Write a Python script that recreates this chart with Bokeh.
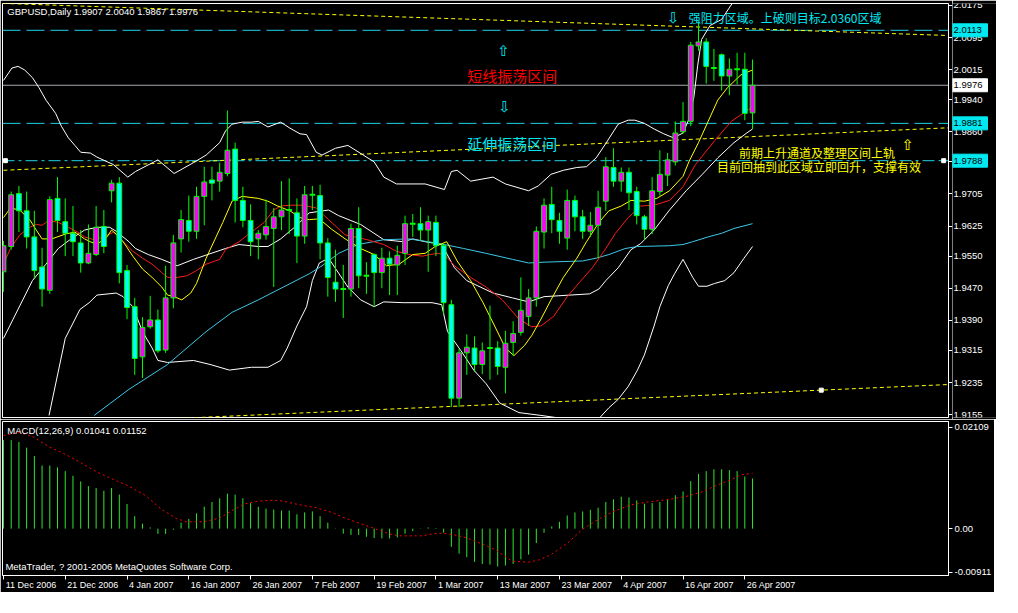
from bokeh.plotting import figure
from bokeh.layouts import column, row
from bokeh.models import Range1d, FixedTicker, Span, LinearAxis
from bokeh.core.properties import value
from bokeh.embed import file_html
from bokeh.resources import INLINE

# ---------------- data ----------------
SYMBOL_HEADER = "GBPUSD,Daily  1.9907 2.0040 1.9867 1.9976"
MACD_HEADER = "MACD(12,26,9) 0.01041 0.01152"
COPYRIGHT = "MetaTrader, ? 2001-2006 MetaQuotes Software Corp."

X_TICK_LABELS = ["11 Dec 2006", "21 Dec 2006", "4 Jan 2007", "16 Jan 2007", "26 Jan 2007",
                 "7 Feb 2007", "19 Feb 2007", "1 Mar 2007", "13 Mar 2007", "23 Mar 2007",
                 "4 Apr 2007", "16 Apr 2007", "26 Apr 2007"]
X_TICK_BARS = [0, 8, 16, 24, 32, 40, 48, 56, 64, 72, 80, 88, 96]

PRICE_TICK_LABELS = ["2.0175", "2.0095", "2.0015", "1.9940", "1.9860", "1.9785", "1.9705", "1.9625",
                     "1.9550", "1.9470", "1.9390", "1.9315", "1.9235", "1.9155"]
MACD_TICKS = [0.02109, 0.0, -0.00911]
MACD_TICK_LABELS = ["0.02109", "0.00", "-0.00911"]

OPEN = [1.9511,1.9574,1.9706,1.9663,1.9598,1.9523,1.9465,1.9694,1.9636,1.9607,
        1.9583,1.9533,1.9554,1.9624,1.9713,1.9732,1.9514,1.9424,1.9299,1.9374,
        1.9391,1.9316,1.9446,1.9593,1.9639,1.9612,1.9699,1.9740,1.9737,1.9756,
        1.9817,1.9689,1.9639,1.9593,1.9603,1.9619,1.9648,1.9665,1.9658,1.9600,
        1.9703,1.9701,1.9583,1.9485,1.9468,1.9468,1.9619,1.9501,1.9554,1.9509,
        1.9545,1.9528,1.9557,1.9631,1.9631,1.9615,1.9634,1.9576,1.9429,1.9196,
        1.9309,1.9321,1.9280,1.9321,1.9321,1.9273,1.9335,1.9360,1.9400,1.9446,
        1.9610,1.9679,1.9639,1.9595,1.9689,1.9648,1.9612,1.9627,1.9687,1.9771,
        1.9737,1.9759,1.9711,1.9648,1.9617,1.9711,1.9752,1.9785,1.9860,1.9886,
        2.0074,2.0084,2.0019,2.0052,1.9999,2.0016,2.0016,1.9907]
HIGH = [1.9588,1.9711,1.9725,1.9711,1.9663,1.9571,1.9699,1.9747,1.9694,1.9675,
        1.9615,1.9629,1.9675,1.9665,1.9740,1.9747,1.9528,1.9446,1.9398,1.9451,
        1.9417,1.9526,1.9603,1.9665,1.9701,1.9723,1.9773,1.9773,1.9783,1.9913,
        1.9833,1.9723,1.9679,1.9615,1.9691,1.9670,1.9737,1.9744,1.9694,1.9725,
        1.9725,1.9728,1.9595,1.9566,1.9528,1.9631,1.9672,1.9535,1.9557,1.9571,
        1.9562,1.9576,1.9651,1.9655,1.9672,1.9651,1.9651,1.9583,1.9441,1.9319,
        1.9355,1.9350,1.9335,1.9427,1.9338,1.9364,1.9388,1.9497,1.9468,1.9624,
        1.9694,1.9723,1.9658,1.9716,1.9701,1.9665,1.9660,1.9713,1.9797,1.9819,
        1.9771,1.9771,1.9723,1.9653,1.9747,1.9814,1.9807,1.9886,1.9934,2.0084,
        2.0132,2.0093,2.0067,2.0055,2.0043,2.0057,2.0057,2.0040]
LOW = [1.9461,1.9566,1.9610,1.9569,1.9494,1.9424,1.9456,1.9610,1.9550,1.9550,
       1.9509,1.9530,1.9550,1.9557,1.9684,1.9482,1.9393,1.9254,1.9246,1.9369,
       1.9309,1.9309,1.9420,1.9559,1.9586,1.9593,1.9627,1.9689,1.9711,1.9749,
       1.9634,1.9622,1.9550,1.9542,1.9591,1.9473,1.9615,1.9605,1.9533,1.9581,
       1.9665,1.9542,1.9449,1.9436,1.9396,1.9449,1.9470,1.9456,1.9424,1.9470,
       1.9453,1.9453,1.9528,1.9598,1.9588,1.9511,1.9550,1.9405,1.9174,1.9174,
       1.9254,1.9261,1.9256,1.9242,1.9254,1.9208,1.9302,1.9352,1.9376,1.9424,
       1.9569,1.9607,1.9581,1.9566,1.9612,1.9593,1.9598,1.9545,1.9663,1.9723,
       1.9711,1.9665,1.9629,1.9591,1.9605,1.9701,1.9725,1.9776,1.9855,1.9874,
       2.0062,1.9980,1.9987,1.9963,1.9951,1.9978,1.9889,1.9867]
CLOSE = [1.9576,1.9703,1.9663,1.9598,1.9514,1.9468,1.9691,1.9639,1.9607,1.9586,
         1.9533,1.9557,1.9622,1.9574,1.9732,1.9509,1.9422,1.9295,1.9372,1.9391,
         1.9314,1.9446,1.9583,1.9641,1.9612,1.9699,1.9735,1.9732,1.9759,1.9814,
         1.9689,1.9639,1.9586,1.9607,1.9624,1.9648,1.9665,1.9665,1.9600,1.9703,
         1.9703,1.9583,1.9497,1.9468,1.9468,1.9619,1.9501,1.9501,1.9509,1.9545,
         1.9530,1.9552,1.9631,1.9631,1.9615,1.9636,1.9576,1.9434,1.9196,1.9309,
         1.9323,1.9280,1.9314,1.9321,1.9275,1.9333,1.9357,1.9415,1.9446,1.9612,
         1.9677,1.9641,1.9612,1.9689,1.9648,1.9612,1.9627,1.9672,1.9773,1.9737,
         1.9759,1.9708,1.9651,1.9617,1.9713,1.9754,1.9790,1.9857,1.9886,2.0076,
         2.0084,2.0023,2.0019,1.9999,2.0016,2.0016,1.9906,1.9976]

# indicator lines: (bar index, price)
MA_FAST = [(0.0,1.9646),(0.9,1.9670),(2.1,1.9665),(3.4,1.9641),(4.25,1.9615),(5.0,1.9593),(6.25,1.9593),
           (8.0,1.9605),(9.25,1.9610),(10.5,1.9593),(11.25,1.9586),(12.1,1.9579),(13.4,1.9598),(14.0,1.9615),
           (14.6,1.9605),(15.5,1.9586),(16.75,1.9550),(18.0,1.9518),(19.25,1.9497),(20.5,1.9473),(21.25,1.9453),
           (22.1,1.9449),(23.1,1.9441),(24.25,1.9458),(25.0,1.9482),(26.25,1.9545),(28.4,1.9634),(29.6,1.9687),
           (30.9,1.9699),(33.0,1.9694),(34.25,1.9687),(35.5,1.9675),(37.1,1.9663),(38.4,1.9646),(39.6,1.9641),
           (40.9,1.9643),(42.5,1.9617),(44.25,1.9593),(46.25,1.9569),(48.0,1.9554),(49.6,1.9526),(51.25,1.9530),
           (53.0,1.9554),(54.6,1.9557),(55.9,1.9574),(57.4,1.9586),(58.75,1.9538),(60.5,1.9489),(62.1,1.9434),
           (63.6,1.9376),(65.0,1.9321),(66.1,1.9302),(67.5,1.9328),(68.4,1.9352),(69.6,1.9393),(70.9,1.9441),
           (72.5,1.9497),(74.25,1.9545),(75.5,1.9586),(77.1,1.9634),(78.4,1.9663),(80.0,1.9675),(81.25,1.9689),
           (83.0,1.9687),(84.6,1.9694),(86.25,1.9713),(88.0,1.9749),(88.75,1.9785),(90.0,1.9833),(91.25,1.9886),
           (92.5,1.9939),(93.75,1.9970),(95.5,2.0002),(97.0,2.0014)]
MA_MID = [(0.0,1.9530),(0.9,1.9569),(2.1,1.9603),(3.4,1.9622),(4.25,1.9629),(5.0,1.9627),(5.9,1.9639),
          (7.1,1.9634),(8.4,1.9622),(9.6,1.9610),(10.5,1.9598),(11.75,1.9591),(13.0,1.9598),(14.25,1.9610),
          (15.5,1.9586),(16.75,1.9562),(18.0,1.9545),(19.25,1.9530),(20.5,1.9509),(21.25,1.9497),(22.5,1.9497),
          (23.75,1.9501),(25.0,1.9514),(26.25,1.9530),(28.0,1.9542),(28.75,1.9566),(30.5,1.9586),(32.1,1.9610),
          (33.75,1.9634),(35.0,1.9665),(35.9,1.9675),(37.1,1.9677),(38.75,1.9677),(40.5,1.9670),(42.1,1.9641),
          (44.25,1.9603),(45.5,1.9598),(47.1,1.9591),(49.25,1.9579),(50.9,1.9562),(52.5,1.9554),(54.25,1.9550),
          (55.25,1.9554),(56.25,1.9557),(57.1,1.9554),(58.4,1.9526),(60.5,1.9497),(62.5,1.9473),(64.6,1.9441),
          (66.75,1.9393),(68.4,1.9374),(69.6,1.9376),(71.25,1.9400),(73.0,1.9449),(74.6,1.9485),(76.25,1.9521),
          (78.0,1.9569),(79.25,1.9607),(80.9,1.9646),(82.5,1.9675),(84.25,1.9677),(86.25,1.9689),(88.0,1.9723),
          (89.6,1.9778),(92.1,1.9838),(94.25,1.9886),(97.0,1.9922)]
MA_SLOW = [(11.75,1.9153),(16.25,1.9218),(21.25,1.9280),(26.25,1.9362),(29.6,1.9410),(33.0,1.9441),
           (36.25,1.9473),(39.6,1.9506),(41.25,1.9526),(43.4,1.9557),(45.9,1.9579),(49.25,1.9591),(52.5,1.9593),
           (55.0,1.9586),(57.1,1.9579),(59.6,1.9569),(62.5,1.9557),(65.9,1.9542),(68.0,1.9533),(70.0,1.9535),
           (75.0,1.9538),(76.75,1.9545),(78.4,1.9554),(80.5,1.9569),(82.1,1.9574),(86.25,1.9576),(88.0,1.9579),
           (89.25,1.9586),(91.25,1.9598),(93.0,1.9607),(94.6,1.9619),(97.0,1.9631)]
BB_MID = [(0.0,1.9345),(1.25,1.9393),(2.5,1.9441),(3.75,1.9489),(5.5,1.9530),(7.1,1.9569),(8.75,1.9593),
          (10.5,1.9615),(12.1,1.9622),(13.75,1.9622),(14.6,1.9612),(16.25,1.9586),(17.1,1.9569),(18.75,1.9554),
          (20.5,1.9542),(22.5,1.9526),(24.6,1.9542),(28.75,1.9569),(30.5,1.9579),(33.0,1.9574),(34.25,1.9574),
          (35.9,1.9593),(38.0,1.9627),(39.6,1.9658),(42.1,1.9665),(43.4,1.9651),(46.25,1.9629),(49.25,1.9591),
          (51.75,1.9586),(53.0,1.9593),(54.6,1.9586),(56.75,1.9579),(58.4,1.9521),(60.0,1.9489),(63.4,1.9458),
          (65.9,1.9446),(68.0,1.9436),(70.0,1.9449),(73.4,1.9453),(75.9,1.9456),(77.1,1.9468),(78.0,1.9489),
          (79.6,1.9521),(81.25,1.9566),(82.5,1.9581),(84.25,1.9615),(86.25,1.9665),(88.4,1.9713),(90.5,1.9754),
          (92.5,1.9795),(94.6,1.9833),(96.25,1.9857),(97.0,1.9867)]
BB_UP = [(0.0,1.9988),(1.1,2.0019),(1.9,2.0023),(2.75,2.0014),(3.75,1.9995),(4.6,1.9970),(5.5,1.9939),
         (6.75,1.9906),(7.5,1.9874),(8.4,1.9845),(9.25,1.9826),(10.0,1.9809),(11.25,1.9807),(12.1,1.9797),
         (14.25,1.9778),(16.1,1.9747),(17.1,1.9761),(20.0,1.9790),(22.1,1.9756),(24.6,1.9783),(26.25,1.9802),
         (28.0,1.9833),(28.75,1.9862),(29.6,1.9879),(30.9,1.9884),(32.1,1.9884),(33.0,1.9886),(34.25,1.9872),
         (35.9,1.9884),(37.1,1.9869),(38.4,1.9855),(39.25,1.9853),(40.5,1.9809),(41.25,1.9802),(43.0,1.9819),
         (44.6,1.9826),(48.0,1.9785),(49.25,1.9747),(50.9,1.9730),(54.6,1.9730),(57.1,1.9716),(58.0,1.9761),
         (58.75,1.9764),(60.5,1.9737),(63.4,1.9747),(65.0,1.9730),(68.0,1.9713),(69.25,1.9725),(70.9,1.9754),
         (72.5,1.9764),(74.25,1.9771),(75.5,1.9773),(76.75,1.9795),(78.0,1.9831),(79.6,1.9879),(80.9,1.9889),
         (81.75,1.9889),(83.0,1.9881),(84.25,1.9867),(85.5,1.9855),(86.75,1.9845),(88.0,1.9857),(88.75,1.9891),
         (89.4,1.9946),(89.9,2.0026),(90.4,2.0090),(91.5,2.0125),(93.0,2.0140),(94.6,2.0187),(97.0,2.0290)]
BB_LOW = [(5.9,1.9153),(8.0,1.9345),(9.9,1.9417),(11.1,1.9434),(12.1,1.9453),(14.6,1.9458),(15.5,1.9449),
          (16.75,1.9424),(18.0,1.9362),(19.25,1.9321),(20.0,1.9290),(21.25,1.9285),(24.6,1.9290),(26.75,1.9280),
          (29.25,1.9266),(32.1,1.9273),(34.25,1.9273),(35.9,1.9290),(36.75,1.9321),(38.0,1.9376),(39.25,1.9424),
          (40.0,1.9489),(40.9,1.9533),(42.1,1.9545),(44.6,1.9473),(46.25,1.9441),(48.0,1.9424),(49.25,1.9436),
          (51.75,1.9434),(55.5,1.9434),(56.75,1.9429),(57.5,1.9362),(59.25,1.9314),(60.9,1.9266),(62.5,1.9232),
          (64.25,1.9184),(66.75,1.9160),(69.6,1.9153),(72.5,1.9145),(77.1,1.9145),(78.4,1.9172),(79.6,1.9193),
          (80.9,1.9225),(82.1,1.9266),(83.0,1.9304),(84.25,1.9376),(85.0,1.9424),(86.1,1.9477),(86.9,1.9506),
          (88.0,1.9542),(89.25,1.9497),(90.0,1.9475),(91.1,1.9475),(92.1,1.9482),(93.4,1.9489),(94.6,1.9509),
          (95.9,1.9545),(97.0,1.9574)]

MACD_HIST = [0.01839,0.01839,0.01800,0.01683,0.01507,0.01312,0.01312,0.01273,0.01195,0.01098,
             0.00981,0.00883,0.00844,0.00786,0.00844,0.00708,0.00513,0.00259,0.00103,0.00025,
             -0.00111,-0.00111,-0.00023,0.00123,0.00201,0.00318,0.00454,0.00552,0.00630,0.00727,
             0.00708,0.00630,0.00532,0.00454,0.00415,0.00396,0.00376,0.00376,0.00298,0.00337,
             0.00357,0.00259,0.00123,0.00006,-0.00105,-0.00131,-0.00131,-0.00170,-0.00195,-0.00203,
             -0.00203,-0.00183,-0.00105,-0.00053,-0.00005,0.00025,0.00012,-0.00086,-0.00378,-0.00521,
             -0.00593,-0.00690,-0.00735,-0.00749,-0.00788,-0.00768,-0.00735,-0.00638,-0.00540,-0.00300,
             -0.00086,0.00045,0.00142,0.00273,0.00337,0.00357,0.00390,0.00435,0.00552,0.00610,
             0.00663,0.00649,0.00585,0.00519,0.00532,0.00552,0.00610,0.00694,0.00772,0.00987,
             0.01137,0.01195,0.01234,0.01234,0.01215,0.01195,0.01084,0.01041]
MACD_SIGNAL = [(0.0,0.01936),(2.1,0.01995),(3.75,0.01917),(5.9,0.01702),(8.0,0.01546),(10.0,0.01371),
               (12.1,0.01176),(14.25,0.01020),(16.25,0.00883),(18.4,0.00688),(20.5,0.00396),(22.5,0.00201),
               (23.75,0.00142),(25.9,0.00142),(28.0,0.00220),(29.6,0.00376),(31.25,0.00513),(33.0,0.00571),
               (35.0,0.00591),(36.25,0.00571),(38.4,0.00493),(40.5,0.00435),(42.5,0.00337),(44.25,0.00220),
               (45.9,0.00123),(48.0,0.00006),(50.0,-0.00111),(51.25,-0.00150),(54.25,-0.00150),(55.5,-0.00111),
               (56.75,-0.00092),(58.4,-0.00131),(60.0,-0.00189),(61.75,-0.00306),(63.75,-0.00443),(65.9,-0.00677),
               (68.0,-0.00696),(69.25,-0.00657),(70.9,-0.00540),(73.0,-0.00306),(75.0,-0.00014),(77.1,0.00201),
               (79.25,0.00376),(81.25,0.00493),(83.4,0.00552),(86.25,0.00610),(88.4,0.00669),(90.5,0.00766),
               (92.1,0.00883),(94.25,0.01020),(95.5,0.01117),(97.0,0.01152)]

# drawn objects
TREND_UPPER = [(0.0, 2.0180), (122.4, 2.0100)]
TREND_CHANNEL = [(0.0, 1.9764), (122.4, 1.9870)]
TREND_LOWER = [(18.4, 1.9142), (122.4, 1.9230)]
LEVEL_RESIST = 2.0113
LEVEL_BID = 1.9976
LEVEL_SUPPORT = 1.9881
LEVEL_SUPPORT2 = 1.9788
ANCHORS = [(0.25, 1.9788), (121.75, 1.9788), (105.9, 1.9216)]

# ---------------- style ----------------
GREEN = "#00ff00"
BULL = "#ff00ff"
BEAR = "#00ffff"
AQUA = "#00e8f0"
LINE_CYAN = "#1ed0e6"
MA_CYAN = "#3cc8e8"
YELLOW = "#ffff00"
FONT = "Liberation Sans"
CJK = "Noto Sans CJK SC"

X0, X1 = -0.125, 122.375
Y0, Y1 = 1.91478, 2.01798
FW = 946
FH = 414
LAB_W = 44
PX_PER_BAR = FW / (X1 - X0)
PRICE_PER_PX = (Y1 - Y0) / FH
PRICE_TICKS = [float(s) for s in PRICE_TICK_LABELS]

def unzip(pairs):
    return [a for a, _ in pairs], [b for _, b in pairs]

def style_axis(ax, size="9.5px"):
    ax.axis_line_color = "white"
    ax.major_tick_line_color = "white"
    ax.minor_tick_line_color = None
    ax.major_tick_in = 0
    ax.major_tick_out = 4
    ax.major_label_text_color = "white"
    ax.major_label_text_font = FONT
    ax.major_label_text_font_size = size
    ax.major_label_standoff = 2

CHAR_EM = {" ": 0.278, "A": 0.667, "D": 0.722, "F": 0.611, "J": 0.5, "M": 0.833,
           "a": 0.556, "b": 0.556, "c": 0.5, "e": 0.556, "n": 0.556, "p": 0.556, "r": 0.333}
def text_px(s, size):
    return sum(CHAR_EM.get(ch, 0.556) for ch in s) * size

def put(fig, x, y, s, color, size, font, align="left"):
    fig.text(x=[x], y=[y], text=[s], text_color=color, text_font=value(font),
             text_font_size=size, text_align=align, text_baseline="middle")

# ---------------- price pane ----------------
p1 = figure(frame_width=FW, frame_height=FH, x_range=Range1d(X0, X1),
            y_range=Range1d(Y0, Y1), output_backend="svg", toolbar_location=None,
            x_axis_location=None, y_axis_location="right",
            background_fill_color="black", border_fill_color="black",
            outline_line_color="white", min_border_left=2, min_border_top=3,
            min_border_bottom=2, min_border_right=0)
p1.grid.visible = False
yax = p1.yaxis[0]
style_axis(yax, "1px")
yax.ticker = FixedTicker(ticks=PRICE_TICKS)
yax.major_label_text_color = None      # the price labels are set in the strip beside the axis
yax.major_label_standoff = 0

for loc, col, dash in [(LEVEL_RESIST, LINE_CYAN, "18 6"), (LEVEL_SUPPORT, LINE_CYAN, "18 6"),
                       (LEVEL_SUPPORT2, LINE_CYAN, "12 4 3 4"), (LEVEL_BID, "#a4a8b0", "solid")]:
    p1.add_layout(Span(location=loc, dimension="width", line_color=col, line_width=1,
                       line_dash=dash, level="underlay"))

for tl in (TREND_UPPER, TREND_CHANNEL, TREND_LOWER):
    xs, ys = unzip(tl)
    p1.line(xs, ys, line_color=YELLOW, line_width=1, line_dash="4 3")

ax_, ay_ = unzip(ANCHORS)
p1.scatter(ax_, ay_, marker="square", size=4, fill_color="white", line_color="white")

for pairs, col in [(BB_UP, "white"), (BB_MID, "white"), (BB_LOW, "white"),
                   (MA_SLOW, MA_CYAN), (MA_MID, "#ff1a1a"), (MA_FAST, YELLOW)]:
    xs, ys = unzip(pairs)
    p1.line(xs, ys, line_color=col, line_width=1)

idx = list(range(len(OPEN)))
p1.segment(x0=idx, y0=LOW, x1=idx, y1=HIGH, line_color=GREEN, line_width=1)
bx, bt, bb, bc = [], [], [], []
dx, dy = [], []
for i, o, c in zip(idx, OPEN, CLOSE):
    if abs(c - o) < 1e-9:
        dx.append(i); dy.append(c)
    else:
        bx.append(i); bt.append(max(o, c)); bb.append(min(o, c))
        bc.append(BULL if c > o else BEAR)
p1.vbar(x=bx, top=bt, bottom=bb, width=0.62, fill_color=bc, line_color=GREEN, line_width=1)
p1.segment(x0=[d - 0.36 for d in dx], y0=dy, x1=[d + 0.36 for d in dx], y1=dy,
           line_color=GREEN, line_width=2)

put(p1, 0.5, 2.01605, SYMBOL_HEADER, "white", "9.5px", FONT)
put(p1, 86.75, 2.01437, "⇩", AQUA, "15px", "DejaVu Sans", "center")
put(p1, 88.75, 2.01437, "强阻力区域。上破则目标2.0360区域", AQUA, "12px", CJK)
put(p1, 64.75, 2.00619, "⇧", AQUA, "15px", "DejaVu Sans", "center")
put(p1, 65.9, 1.99994, "短线振荡区间", "#ff0000", "15px", CJK, "center")
put(p1, 64.9, 1.99224, "⇩", AQUA, "15px", "DejaVu Sans", "center")
put(p1, 65.9, 1.98310, "延伸振荡区间", AQUA, "15px", CJK, "center")
put(p1, 95.25, 1.98093, "前期上升通道及整理区间上轨", YELLOW, "12px", CJK)
put(p1, 92.4, 1.97732, "目前回抽到此区域立即回升，支撑有效", YELLOW, "12px", CJK)
put(p1, 117.1, 1.98262, "⇧", YELLOW, "15px", "DejaVu Sans", "center")

# ---------------- price label strip (shares the price scale) ----------------
strip = figure(frame_width=LAB_W, frame_height=FH, x_range=Range1d(0, LAB_W), y_range=p1.y_range,
               output_backend="svg", toolbar_location=None, x_axis_location=None, y_axis_location=None,
               background_fill_color="black", border_fill_color="black", outline_line_color=None,
               min_border_left=0, min_border_top=3, min_border_bottom=2, min_border_right=0)
strip.grid.visible = False
strip.text(x=[1] * len(PRICE_TICKS), y=PRICE_TICKS, text=PRICE_TICK_LABELS, text_color="white",
           text_font=value(FONT), text_font_size="9.5px", text_align="left", text_baseline="middle")
HIGHLIGHTS = [(LEVEL_RESIST, AQUA), (LEVEL_BID, "white"), (LEVEL_SUPPORT, AQUA), (LEVEL_SUPPORT2, AQUA)]
hl_y, hl_c = unzip(HIGHLIGHTS)
half = 6.5 * PRICE_PER_PX
strip.quad(left=0, right=35, top=[v + half for v in hl_y], bottom=[v - half for v in hl_y],
           fill_color=hl_c, line_color=hl_c)
strip.text(x=[1] * len(hl_y), y=hl_y, text=["%.4f" % v for v in hl_y], text_color="black",
           text_font=value(FONT), text_font_size="9.5px", text_align="left", text_baseline="middle")

# ---------------- MACD pane ----------------
p2 = figure(frame_width=FW, frame_height=154, x_range=p1.x_range,
            y_range=Range1d(-0.00974, 0.02226), output_backend="svg", toolbar_location=None,
            x_axis_location="below", y_axis_location="right",
            background_fill_color="black", border_fill_color="black",
            outline_line_color="white", min_border_left=2, min_border_top=2,
            min_border_bottom=0, min_border_right=0)
p2.grid.visible = False
style_axis(p2.yaxis[0])
p2.yaxis[0].ticker = FixedTicker(ticks=MACD_TICKS)
p2.yaxis[0].major_label_overrides = dict(zip(MACD_TICKS, MACD_TICK_LABELS))

tick_axis = p2.xaxis[0]
style_axis(tick_axis, "1px")
tick_axis.ticker = FixedTicker(ticks=X_TICK_BARS)
tick_axis.major_label_text_color = None
tick_axis.major_label_standoff = 0
label_pos = [b + (text_px(s, 9) / 2 + 2) / PX_PER_BAR for b, s in zip(X_TICK_BARS, X_TICK_LABELS)]
date_axis = LinearAxis(ticker=FixedTicker(ticks=label_pos),
                       major_label_overrides=dict(zip(label_pos, X_TICK_LABELS)))
style_axis(date_axis, "9px")
date_axis.axis_line_color = None
date_axis.major_tick_line_color = None
date_axis.major_tick_out = 0
date_axis.major_label_standoff = 0
p2.add_layout(date_axis, "below")

p2.segment(x0=idx, y0=[0] * len(idx), x1=idx, y1=MACD_HIST, line_color="#2ee62e", line_width=1)
sx, sy = unzip(MACD_SIGNAL)
p2.line(sx, sy, line_color="#ff0000", line_width=1, line_dash="2 3")
put(p2, 0.5, 0.02046, MACD_HEADER, "white", "9.5px", FONT)
put(p2, 0.25, -0.00794, COPYRIGHT, "white", "9.5px", FONT)

layout = column(row(p1, strip, spacing=0), p2, spacing=0)
open("out.html", "w").write(file_html(layout, INLINE))
